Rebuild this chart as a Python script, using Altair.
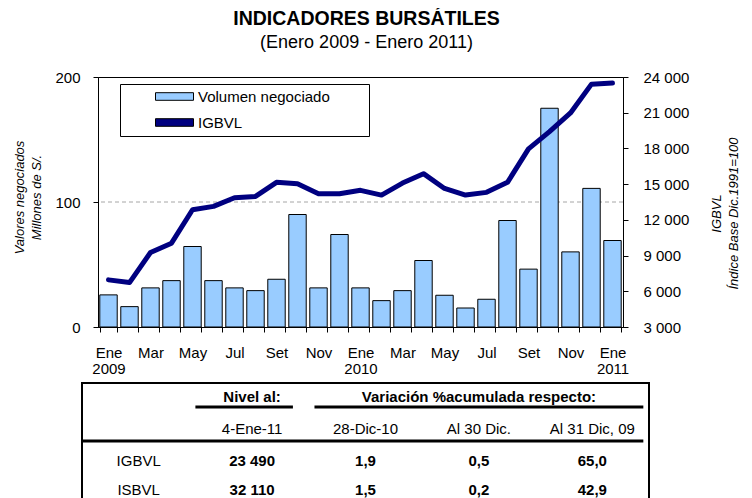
import json
import altair as alt
import pandas as pd

# ---------------- data ----------------
meses = ["Ene-09", "Feb-09", "Mar-09", "Abr-09", "May-09", "Jun-09", "Jul-09", "Ago-09",
         "Set-09", "Oct-09", "Nov-09", "Dic-09", "Ene-10", "Feb-10", "Mar-10", "Abr-10",
         "May-10", "Jun-10", "Jul-10", "Ago-10", "Set-10", "Oct-10", "Nov-10", "Dic-10",
         "Ene-11"]
etiquetas_x = ["Ene|2009", "", "Mar", "", "May", "", "Jul", "", "Set", "", "Nov", "",
               "Ene|2010", "", "Mar", "", "May", "", "Jul", "", "Set", "", "Nov", "",
               "Ene|2011"]
volumen = [25.7, 16.3, 31.3, 37.1, 64.4, 37.1, 31.3, 29.1, 38.2, 90.0, 31.3, 74.0,
           31.3, 21.1, 29.1, 53.2, 25.4, 15.2, 22.2, 85.2, 46.3, 175.0, 60.1, 110.9, 69.2]
igbvl = [6960, 6730, 9260, 10040, 12850, 13130, 13860, 13970, 15150, 15040, 14200, 14200,
         14480, 14080, 15090, 15880, 14640, 14080, 14310, 15150, 17960, 19410, 20980, 23400,
         23490]
series = ["Volumen negociado", "IGBVL"]

ticks_izq = [0, 100, 200]
ticks_der = [3000, 6000, 9000, 12000, 15000, 18000, 21000, 24000]

# table
tabla_filas = ["IGBVL", "ISBVL"]
tabla_nivel = [23490, 32110]
tabla_28dic = [1.9, 1.5]
tabla_30dic = [0.5, 0.2]
tabla_31dic = [65.0, 42.9]
tabla_grupos = ["Nivel al:", "Variación %acumulada respecto:"]
tabla_cols = ["4-Ene-11", "28-Dic-10", "Al 30 Dic.", "Al 31 Dic, 09"]

# ---------------- main chart ----------------
df = pd.DataFrame({"mes": meses, "volumen": volumen, "igbvl": igbvl,
                   "serie": series[0]})

idx = "indexof(%s, datum.value)" % json.dumps(meses)
label_expr = "%s >= 0 ? split(%s[%s], '|') : ''" % (idx, json.dumps(etiquetas_x), idx)

x_enc = alt.X("mes:O", sort=meses,
              scale=alt.Scale(paddingInner=0.17, paddingOuter=0.085),
              axis=alt.Axis(title=None, labelAngle=0, labelExpr=label_expr,
                            tickBand="extent", labelLineHeight=16, labelPadding=13,
                            tickSize=5, labelOverlap=False, labelBaseline="top"))

grid = alt.Chart(pd.DataFrame({"ref": [100]})).mark_rule(
    color="#A6A6A6", strokeDash=[4, 3], strokeWidth=1
).encode(y=alt.datum(100))

bars = alt.Chart(df).mark_bar(stroke="black", strokeWidth=1).encode(
    x=x_enc,
    y=alt.Y("volumen:Q",
            scale=alt.Scale(domain=[0, 200], nice=False),
            axis=alt.Axis(orient="left", values=ticks_izq,
                          title=["Valores negociados", "Millones de S/."],
                          titleLineHeight=17, titlePadding=11, labelPadding=13,
                          tickSize=5, titleY=120)),
    fill=alt.Fill("serie:N",
                  scale=alt.Scale(domain=series, range=["#99CCFF", "#000080"]),
                  legend=alt.Legend(orient="none", legendX=22, legendY=7,
                                    title=" ", titleOrient="right", titleFontSize=1,
                                    titlePadding=34,
                                    symbolType="M-1,-0.2H1V0.2H-1Z", symbolSize=1444,
                                    symbolStrokeColor="black", symbolStrokeWidth=1,
                                    clipHeight=15, rowPadding=10, padding=5,
                                    symbolOffset=30, labelOffset=4,
                                    labelFontSize=15, labelColor="black",
                                    strokeColor="black", fillColor="white")),
)

line = alt.Chart(df).mark_line(color="#000080", strokeWidth=5,
                               strokeJoin="round", strokeCap="round").encode(
    x=alt.X("mes:O", sort=meses),
    y=alt.Y("igbvl:Q",
            scale=alt.Scale(domain=[3000, 24000], nice=False, zero=False),
            axis=alt.Axis(orient="right", values=ticks_der,
                          labelExpr="replace(format(datum.value, ','), ',', ' ')",
                          title=["IGBVL", "Índice Base Dic.1991=100"],
                          titleAngle=270, titleBaseline="top", titleLineHeight=17,
                          titlePadding=5, labelPadding=15, tickSize=5, titleY=136)),
)

main = alt.layer(alt.layer(grid, bars), line).resolve_scale(y="independent").properties(
    width=525, height=250,
    view=alt.ViewBackground(stroke="black", strokeWidth=1),
    title=alt.Title(text="INDICADORES BURSÁTILES",
                    subtitle="(Enero 2009 - Enero 2011)",
                    fontSize=19.5, fontWeight="bold", subtitleFontSize=18,
                    subtitlePadding=5, anchor="middle", frame="group", dx=6,
                    offset=15, dy=-2, color="black", subtitleColor="black"),
)

# ---------------- table ----------------
S = -16  # table frame starts left of the plot area
tx = alt.Scale(domain=[0, 5], nice=False, zero=False)
ty = alt.Scale(domain=[0, 4], reverse=True, nice=False, zero=False)


def fmt_miles(v):
    return "{:,}".format(v).replace(",", " ")


def fmt_dec(v):
    return "{:.1f}".format(v).replace(".", ",")


borde_df = pd.DataFrame({"c0": [0], "c1": [5], "r0": [0], "r1": [4]})
borde = alt.Chart(borde_df).mark_rect(filled=False, stroke="black", strokeWidth=2,
                                      xOffset=S, x2Offset=S).encode(
    x=alt.X("c0:Q", scale=tx, axis=None), x2="c1",
    y=alt.Y("r0:Q", scale=ty, axis=None), y2="r1")

lineas_df = pd.DataFrame({"c0": [1.0, 2.05, 0.0], "c1": [1.86, 4.95, 4.95],
                          "r": [0.83, 0.83, 2.0]})
lineas = alt.Chart(lineas_df).mark_rule(strokeWidth=3, color="black",
                                        xOffset=S, x2Offset=S).encode(
    x=alt.X("c0:Q", scale=tx, axis=None), x2="c1",
    y=alt.Y("r:Q", scale=ty, axis=None))

h1_df = pd.DataFrame({"c": [1.5, 3.5], "r": [0.5, 0.5], "t": tabla_grupos})
h2_df = pd.DataFrame({"c": [1.5, 2.5, 3.5, 4.5], "r": [1.5] * 4, "t": tabla_cols})
b1_df = pd.DataFrame({"c": [0.5, 0.5], "r": [2.5, 3.5], "t": tabla_filas})
vals = []
for i in range(2):
    fila = [fmt_miles(tabla_nivel[i]), fmt_dec(tabla_28dic[i]),
            fmt_dec(tabla_30dic[i]), fmt_dec(tabla_31dic[i])]
    for j, t in enumerate(fila):
        vals.append({"c": 1.5 + j, "r": 2.5 + i, "t": t})
b2_df = pd.DataFrame(vals)


def texto(d, bold, dy):
    return alt.Chart(d).mark_text(fontSize=15, fontWeight="bold" if bold else "normal",
                                  color="black", baseline="middle", align="center",
                                  xOffset=S, dy=dy).encode(
        x=alt.X("c:Q", scale=tx, axis=None),
        y=alt.Y("r:Q", scale=ty, axis=None),
        text="t:N")


tabla = alt.layer(borde, lineas, texto(h1_df, True, -1), texto(h2_df, False, 2),
                  texto(b1_df, False, 5), texto(b2_df, True, 5)).properties(
    width=567, height=116)

chart = alt.vconcat(main, tabla, spacing=4).properties(
    padding={"left": 5, "top": 0, "right": 0, "bottom": 0}
).configure(font="Liberation Sans").configure_view(
    stroke="transparent"
).configure_axis(
    labelFontSize=15, labelColor="black", domainColor="black", tickColor="black",
    titleFontSize=13, titleFontStyle="italic", titleFontWeight="normal",
    titleColor="black", grid=False
)

chart.save("out.html", embed_options={"renderer": "svg", "actions": False})
